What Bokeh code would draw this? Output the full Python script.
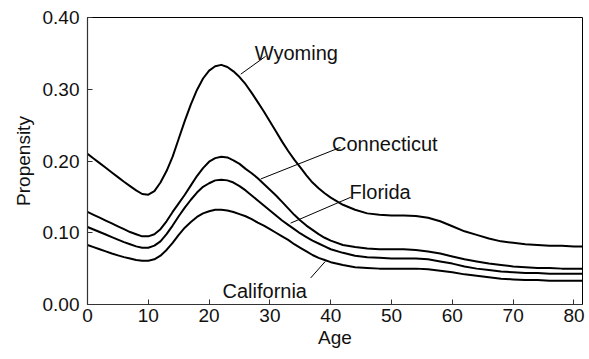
from bokeh.plotting import figure
from bokeh.models import Range1d, FixedTicker, PrintfTickFormatter, Label
from bokeh.embed import file_html
from bokeh.resources import INLINE

ages = [0, 1, 2, 3, 4, 5, 6, 7, 8, 9, 10, 11, 12, 13, 14, 15, 16, 17, 18, 19,
        20, 21, 22, 23, 24, 25, 26, 27, 28, 29, 30, 31, 32, 33, 34, 35, 36, 37, 38, 39,
        40, 42, 44, 46, 48, 50, 52, 54, 56, 58, 60, 62, 64, 66, 68, 70, 72, 74, 76, 78,
        80, 81.4]

wyoming = [0.210, 0.2035, 0.197, 0.1905, 0.184, 0.1775, 0.171, 0.165, 0.159, 0.154,
           0.153, 0.158, 0.170, 0.186, 0.206, 0.231, 0.256, 0.279, 0.299, 0.315,
           0.326, 0.332, 0.334, 0.331, 0.325, 0.317, 0.307, 0.295, 0.282, 0.269,
           0.255, 0.241, 0.227, 0.214, 0.202, 0.191, 0.180, 0.170, 0.162, 0.155,
           0.149, 0.139, 0.132, 0.127, 0.125, 0.124, 0.124, 0.1235, 0.121, 0.116,
           0.109, 0.102, 0.097, 0.092, 0.088, 0.086, 0.084, 0.083, 0.082, 0.082,
           0.081, 0.081]

connecticut = [0.129, 0.125, 0.121, 0.117, 0.113, 0.109, 0.105, 0.101, 0.098, 0.095,
               0.095, 0.098, 0.105, 0.116, 0.129, 0.141, 0.153, 0.166, 0.179, 0.190,
               0.199, 0.204, 0.206, 0.205, 0.201, 0.196, 0.189, 0.183, 0.176, 0.168,
               0.160, 0.152, 0.143, 0.134, 0.125, 0.117, 0.110, 0.104, 0.098, 0.093,
               0.089, 0.083, 0.080, 0.078, 0.077, 0.077, 0.077, 0.076, 0.074, 0.071,
               0.067, 0.063, 0.060, 0.057, 0.055, 0.053, 0.052, 0.051, 0.051, 0.050,
               0.050, 0.050]

florida = [0.108, 0.1045, 0.101, 0.0975, 0.094, 0.0905, 0.087, 0.084, 0.081, 0.079,
           0.079, 0.082, 0.088, 0.098, 0.110, 0.123, 0.135, 0.146, 0.156, 0.164,
           0.169, 0.173, 0.174, 0.173, 0.170, 0.165, 0.159, 0.152, 0.145, 0.138,
           0.131, 0.124, 0.117, 0.111, 0.105, 0.099, 0.094, 0.089, 0.085, 0.081,
           0.077, 0.072, 0.068, 0.066, 0.065, 0.064, 0.064, 0.064, 0.063, 0.060,
           0.057, 0.053, 0.050, 0.048, 0.046, 0.045, 0.044, 0.044, 0.043, 0.043,
           0.043, 0.043]

california = [0.083, 0.080, 0.077, 0.074, 0.071, 0.0685, 0.066, 0.064, 0.062, 0.061,
              0.061, 0.063, 0.068, 0.076, 0.086, 0.097, 0.107, 0.115, 0.122, 0.127,
              0.130, 0.132, 0.132, 0.131, 0.129, 0.126, 0.123, 0.119, 0.114, 0.110,
              0.105, 0.100, 0.095, 0.090, 0.084, 0.079, 0.074, 0.069, 0.065, 0.062,
              0.059, 0.055, 0.052, 0.051, 0.050, 0.050, 0.050, 0.050, 0.049, 0.047,
              0.045, 0.042, 0.040, 0.038, 0.036, 0.035, 0.034, 0.034, 0.033, 0.033,
              0.033, 0.033]

x_ticks = [0, 10, 20, 30, 40, 50, 60, 70, 80]
y_ticks = [0.0, 0.1, 0.2, 0.3, 0.4]

# label name, text anchor (x, y), leader line start and end
labels = [
    ("Wyoming", 27.5, 0.351, (29.3, 0.346), (25.2, 0.321)),
    ("Connecticut", 40.2, 0.224, (41.6, 0.219), (28.5, 0.175)),
    ("Florida", 43.1, 0.1565, (43.3, 0.1495), (33.4, 0.1134)),
    ("California", 22.2, 0.0195, (36.7, 0.037), (39.1, 0.060)),
]

FONT = "Liberation Sans"

p = figure(width=589, height=359, output_backend="svg", toolbar_location=None,
           x_range=Range1d(0, 81.4), y_range=Range1d(0, 0.40))
p.min_border_left = 87
p.min_border_right = 7
p.min_border_top = 17
p.min_border_bottom = 55
p.background_fill_color = "white"
p.border_fill_color = "white"
p.outline_line_color = "black"
p.outline_line_width = 1
p.grid.visible = False

for series in [wyoming, connecticut, florida, california]:
    p.line(ages, series, line_color="black", line_width=2, line_join="round")

for name, tx, ty, (x0, y0), (x1, y1) in labels:
    p.segment(x0=[x0], y0=[y0], x1=[x1], y1=[y1], line_color="black", line_width=1)
    p.add_layout(Label(x=tx, y=ty, text=name, text_font=FONT, text_font_size="20px",
                       text_align="left", text_baseline="alphabetic", text_color="#111"))

for ax in (p.xaxis[0], p.yaxis[0]):
    ax.axis_line_color = "#333"
    ax.axis_line_width = 1.2
    ax.major_tick_in = 5
    ax.major_tick_out = 0
    ax.minor_tick_in = 0
    ax.minor_tick_out = 0
    ax.major_tick_line_color = "#333"
    ax.major_label_text_font = FONT
    ax.major_label_text_font_size = "19px"
    ax.major_label_text_color = "#111"
    ax.axis_label_text_font = FONT
    ax.axis_label_text_font_size = "19px"
    ax.axis_label_text_font_style = "normal"
    ax.axis_label_text_color = "#111"

p.xaxis.ticker = FixedTicker(ticks=x_ticks)
p.yaxis.ticker = FixedTicker(ticks=y_ticks)
p.yaxis.formatter = PrintfTickFormatter(format="%.2f")
p.xaxis.axis_label = "Age"
p.yaxis.axis_label = "Propensity"
p.xaxis.major_label_standoff = 4
p.yaxis.major_label_standoff = 8
p.xaxis.axis_label_standoff = 2
p.yaxis.axis_label_standoff = 6

open("out.html", "w").write(file_html(p, INLINE))
